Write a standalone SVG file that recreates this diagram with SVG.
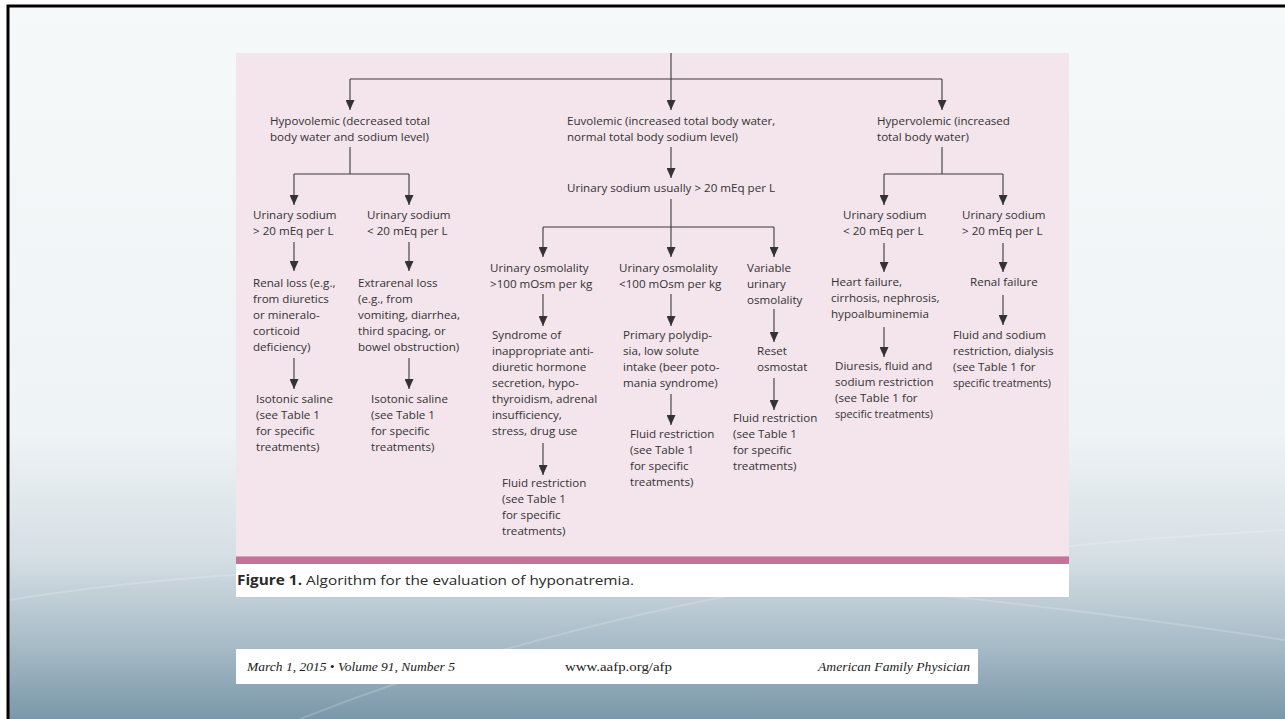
<svg xmlns="http://www.w3.org/2000/svg" width="1285" height="719" viewBox="0 0 1285 719">
<defs>
<linearGradient id="bg" x1="0" y1="0" x2="0" y2="1">
<stop offset="0" stop-color="#f6f9fa"/>
<stop offset="0.6" stop-color="#eef3f5"/>
<stop offset="0.77" stop-color="#d6dfe5"/>
<stop offset="0.9" stop-color="#a6bac6"/>
<stop offset="1" stop-color="#7a97a9"/>
</linearGradient>
<marker id="ah" markerUnits="userSpaceOnUse" markerWidth="10" markerHeight="9" refX="10" refY="4.5" orient="auto">
<path d="M0,0 L10,4.5 L0,9 z" fill="#333"/>
</marker>
<style>
.t{font-family:"Open Sans","Liberation Sans",sans-serif;font-size:11.6px;fill:#333}
.m{text-anchor:middle}
.c{stroke:#3a3a3a;stroke-width:1.1;fill:none}
.a{marker-end:url(#ah)}
.f{font-family:"Liberation Serif",serif;font-size:13px;fill:#222}
</style>
</defs>
<rect width="1285" height="719" fill="#ffffff"/>
<rect x="9" y="6" width="1276" height="713" fill="url(#bg)"/>
<g fill="none" stroke="#ffffff" stroke-opacity="0.18" stroke-width="2">
<path d="M9,600 Q500,520 1285,640"/>
<path d="M300,719 Q700,560 1285,530"/>
</g>
<path d="M8,719 V6 H1285" fill="none" stroke="#000" stroke-width="3"/>
<rect x="236" y="53" width="833" height="503" fill="#f4e4ec"/>
<rect x="236" y="556" width="833" height="8" fill="#c4729a"/>
<rect x="236" y="556" width="833" height="1" fill="#d9a3bd"/>
<rect x="236" y="564" width="833" height="33" fill="#ffffff"/>
<text x="237" y="585" style="font-family:'Open Sans','Liberation Sans',sans-serif;font-size:13.5px;fill:#2a2a2a" textLength="397" lengthAdjust="spacingAndGlyphs"><tspan font-weight="bold">Figure 1.</tspan> Algorithm for the evaluation of hyponatremia.</text>
<rect x="236" y="649" width="742" height="35" fill="#ffffff"/>
<text class="f" x="247" y="671" font-style="italic" textLength="208" lengthAdjust="spacingAndGlyphs">March 1, 2015 • Volume 91, Number 5</text>
<text class="f" x="565" y="671" textLength="107" lengthAdjust="spacingAndGlyphs">www.aafp.org/afp</text>
<text class="f" x="818" y="671" font-style="italic" textLength="152" lengthAdjust="spacingAndGlyphs">American Family Physician</text>
<g id="connectors">
<path class="c a" d="M671,53 V110"/>
<path class="c" d="M350,79 H942"/>
<path class="c a" d="M350,79 V110"/>
<path class="c a" d="M942,79 V110"/>
<path class="c" d="M350,147 V174 M294,174 H409"/>
<path class="c a" d="M294,174 V205"/>
<path class="c a" d="M409,174 V205"/>
<path class="c a" d="M671,147 V178"/>
<path class="c a" d="M671,199 V257"/>
<path class="c" d="M543,227 H774"/>
<path class="c a" d="M543,227 V257"/>
<path class="c a" d="M774,227 V257"/>
<path class="c" d="M942,147 V174 M884,174 H1003"/>
<path class="c a" d="M884,174 V205"/>
<path class="c a" d="M1003,174 V205"/>
<path class="c a" d="M294,242 V271"/>
<path class="c a" d="M409,242 V271"/>
<path class="c a" d="M294,358 V389"/>
<path class="c a" d="M409,358 V389"/>
<path class="c a" d="M543,294 V326"/>
<path class="c a" d="M671,294 V326"/>
<path class="c a" d="M774,309 V342"/>
<path class="c a" d="M543,443 V475"/>
<path class="c a" d="M671,394 V425"/>
<path class="c a" d="M774,378 V410"/>
<path class="c a" d="M884,243 V272"/>
<path class="c a" d="M1003,243 V272"/>
<path class="c a" d="M884,327 V357"/>
<path class="c a" d="M1003,295 V325"/>
</g>
<g id="hypovolemic"><text class="t" x="270" y="125">Hypovolemic (decreased total</text><text class="t" x="270" y="141">body water and sodium level)</text></g>
<g id="euvolemic"><text class="t" x="567" y="125">Euvolemic (increased total body water,</text><text class="t" x="567" y="141">normal total body sodium level)</text></g>
<g id="hypervolemic"><text class="t" x="877" y="125">Hypervolemic (increased</text><text class="t" x="877" y="141">total body water)</text></g>
<g id="eu-sodium"><text class="t m" x="671" y="192">Urinary sodium usually &gt; 20 mEq per L</text></g>
<g id="hypo-na-high"><text class="t" x="253" y="219">Urinary sodium</text><text class="t" x="253" y="235">&gt; 20 mEq per L</text></g>
<g id="hypo-na-low"><text class="t" x="367" y="219">Urinary sodium</text><text class="t" x="367" y="235">&lt; 20 mEq per L</text></g>
<g id="hyper-na-low"><text class="t" x="843" y="219">Urinary sodium</text><text class="t" x="843" y="235">&lt; 20 mEq per L</text></g>
<g id="hyper-na-high"><text class="t" x="962" y="219">Urinary sodium</text><text class="t" x="962" y="235">&gt; 20 mEq per L</text></g>
<g id="renal-loss"><text class="t" x="253" y="287">Renal loss (e.g.,</text><text class="t" x="253" y="303">from diuretics</text><text class="t" x="253" y="319">or mineralo-</text><text class="t" x="253" y="335">corticoid</text><text class="t" x="253" y="351">deficiency)</text></g>
<g id="extrarenal-loss"><text class="t" x="358" y="287">Extrarenal loss</text><text class="t" x="358" y="303">(e.g., from</text><text class="t" x="358" y="319">vomiting, diarrhea,</text><text class="t" x="358" y="335">third spacing, or</text><text class="t" x="358" y="351">bowel obstruction)</text></g>
<g id="saline-1"><text class="t" x="256" y="403">Isotonic saline</text><text class="t" x="256" y="419">(see Table 1</text><text class="t" x="256" y="435">for specific</text><text class="t" x="256" y="451">treatments)</text></g>
<g id="saline-2"><text class="t" x="371" y="403">Isotonic saline</text><text class="t" x="371" y="419">(see Table 1</text><text class="t" x="371" y="435">for specific</text><text class="t" x="371" y="451">treatments)</text></g>
<g id="osm-high"><text class="t" x="490" y="272">Urinary osmolality</text><text class="t" x="490" y="288">&gt;100 mOsm per kg</text></g>
<g id="osm-low"><text class="t" x="619" y="272">Urinary osmolality</text><text class="t" x="619" y="288">&lt;100 mOsm per kg</text></g>
<g id="osm-var"><text class="t" x="747" y="272">Variable</text><text class="t" x="747" y="288">urinary</text><text class="t" x="747" y="304">osmolality</text></g>
<g id="siadh"><text class="t" x="492" y="339">Syndrome of</text><text class="t" x="492" y="355">inappropriate anti-</text><text class="t" x="492" y="371">diuretic hormone</text><text class="t" x="492" y="387">secretion, hypo-</text><text class="t" x="492" y="403">thyroidism, adrenal</text><text class="t" x="492" y="419">insufficiency,</text><text class="t" x="492" y="435">stress, drug use</text></g>
<g id="polydipsia"><text class="t" x="623" y="339">Primary polydip-</text><text class="t" x="623" y="355">sia, low solute</text><text class="t" x="623" y="371">intake (beer poto-</text><text class="t" x="623" y="387">mania syndrome)</text></g>
<g id="reset"><text class="t" x="757" y="355">Reset</text><text class="t" x="757" y="371">osmostat</text></g>
<g id="fluid-1"><text class="t" x="502" y="487">Fluid restriction</text><text class="t" x="502" y="503">(see Table 1</text><text class="t" x="502" y="519">for specific</text><text class="t" x="502" y="535">treatments)</text></g>
<g id="fluid-2"><text class="t" x="630" y="438">Fluid restriction</text><text class="t" x="630" y="454">(see Table 1</text><text class="t" x="630" y="470">for specific</text><text class="t" x="630" y="486">treatments)</text></g>
<g id="fluid-3"><text class="t" x="733" y="422">Fluid restriction</text><text class="t" x="733" y="438">(see Table 1</text><text class="t" x="733" y="454">for specific</text><text class="t" x="733" y="470">treatments)</text></g>
<g id="heart-failure"><text class="t" x="831" y="286">Heart failure,</text><text class="t" x="831" y="302">cirrhosis, nephrosis,</text><text class="t" x="831" y="318">hypoalbuminemia</text></g>
<g id="renal-failure"><text class="t" x="970" y="286">Renal failure</text></g>
<g id="diuresis"><text class="t" x="835" y="370">Diuresis, fluid and</text><text class="t" x="835" y="386">sodium restriction</text><text class="t" x="835" y="402">(see Table 1 for</text><text class="t" x="835" y="418" textLength="98" lengthAdjust="spacingAndGlyphs">specific treatments)</text></g>
<g id="dialysis"><text class="t" x="953" y="339">Fluid and sodium</text><text class="t" x="953" y="355">restriction, dialysis</text><text class="t" x="953" y="371">(see Table 1 for</text><text class="t" x="953" y="387" textLength="98" lengthAdjust="spacingAndGlyphs">specific treatments)</text></g>
</svg>
